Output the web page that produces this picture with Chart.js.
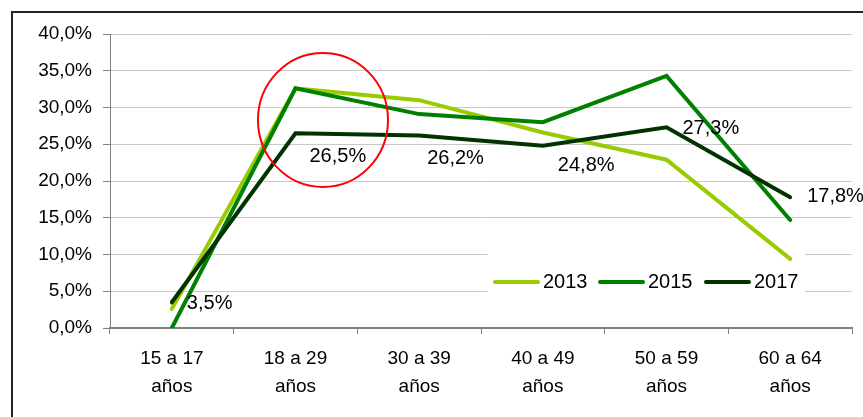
<!DOCTYPE html>
<html lang="es">
<head>
  <meta charset="UTF-8">
  <title>Grupos de edad 2013-2017</title>
  <script src="https://cdn.jsdelivr.net/npm/chart.js"></script>
  <style>
    body { margin: 0; background: #fff; }
    canvas { display: block; }
  </style>
</head>
<body>
  <canvas id="ageChart" width="863" height="417"></canvas>

  <script>
    const categories = [
      ['15 a 17', 'años'], ['18 a 29', 'años'], ['30 a 39', 'años'],
      ['40 a 49', 'años'], ['50 a 59', 'años'], ['60 a 64', 'años']
    ];
    const years = ['2013', '2015', '2017'];
    const values2013 = [2.6, 32.6, 31.0, 26.6, 22.9, 9.4];
    const values2015 = [0.0, 32.6, 29.1, 28.0, 34.3, 14.7];
    const values2017 = [3.5, 26.5, 26.2, 24.8, 27.3, 17.8];
    const yTicks = [0, 5, 10, 15, 20, 25, 30, 35, 40];

    const colors = ['#99cc00', '#008000', '#003300'];
    const FONT = '"Liberation Sans", Arial, sans-serif';
    const pct = v => v.toFixed(1).replace('.', ',') + '%';

    // frame, legend box, 2017 labels and the red circle
    const extras = {
      id: 'extras',
      beforeDatasetsDraw(chart) {
        const ctx = chart.ctx;
        ctx.save();
        ctx.fillStyle = '#fff';
        ctx.fillRect(488, 246, 317, 52);
        ctx.restore();
      },
      afterDatasetsDraw(chart) {
        const ctx = chart.ctx;
        const x = chart.scales.x, y = chart.scales.y;
        ctx.save();

        // data labels of 2017
        const dx = [15, 14, 8, 15, 16, 17];
        const dy = [1, 23, 23, 20, 1, -1];
        ctx.font = '20px ' + FONT;
        ctx.fillStyle = '#000';
        ctx.textAlign = 'left';
        ctx.textBaseline = 'middle';
        values2017.forEach((v, i) => {
          ctx.fillText(pct(v), x.getPixelForValue(i) + dx[i], y.getPixelForValue(v) + dy[i]);
        });

        // legend
        const lx = [495, 600, 706];
        ctx.lineCap = 'round';
        ctx.lineWidth = 4;
        years.forEach((yr, i) => {
          ctx.strokeStyle = colors[i];
          ctx.beginPath();
          ctx.moveTo(lx[i], 282);
          ctx.lineTo(lx[i] + 43, 282);
          ctx.stroke();
          ctx.fillText(yr, lx[i] + 48, 282);
        });

        // red circle
        ctx.strokeStyle = '#ff0000';
        ctx.lineWidth = 2;
        ctx.beginPath();
        ctx.ellipse(323, 120, 65, 67, 0, 0, Math.PI * 2);
        ctx.stroke();

        // outer frame
        ctx.strokeStyle = '#222';
        ctx.lineWidth = 2;
        ctx.lineCap = 'butt';
        ctx.beginPath();
        ctx.moveTo(12, 420);
        ctx.lineTo(12, 12);
        ctx.lineTo(870, 12);
        ctx.stroke();
        ctx.restore();
      }
    };

    const makeSet = (label, data, i) => ({
      label: label,
      data: data,
      borderColor: colors[i],
      backgroundColor: colors[i],
      borderWidth: 4,
      borderCapStyle: 'round',
      pointRadius: 0,
      tension: 0,
      order: 3 - i
    });

    new Chart(document.getElementById('ageChart'), {
      type: 'line',
      data: {
        labels: categories,
        datasets: [
          makeSet(years[0], values2013, 0),
          makeSet(years[1], values2015, 1),
          makeSet(years[2], values2017, 2)
        ]
      },
      options: {
        responsive: false,
        animation: false,
        layout: { padding: { left: 0, top: 34, right: 11, bottom: 0 } },
        plugins: { legend: { display: false }, tooltip: { enabled: false } },
        scales: {
          x: {
            offset: true,
            afterFit: s => { s.height = 89; },
            grid: { offset: true, drawOnChartArea: false, tickLength: 6, tickColor: '#808080' },
            border: { color: '#808080', width: 2 },
            ticks: {
              color: '#000',
              padding: 11,
              maxRotation: 0,
              font: { family: FONT, size: 19, lineHeight: 1.45 }
            }
          },
          y: {
            min: 0,
            max: 40,
            afterFit: s => { s.width = 110; },
            afterBuildTicks: s => { s.ticks = yTicks.map(v => ({ value: v })); },
            grid: { color: '#c8c8c8', tickLength: 7, tickColor: '#808080' },
            border: { color: '#808080', width: 1 },
            ticks: {
              color: '#000',
              padding: 11,
              font: { family: FONT, size: 19 },
              callback: v => pct(v)
            }
          }
        }
      },
      plugins: [extras]
    });
  </script>
</body>
</html>
